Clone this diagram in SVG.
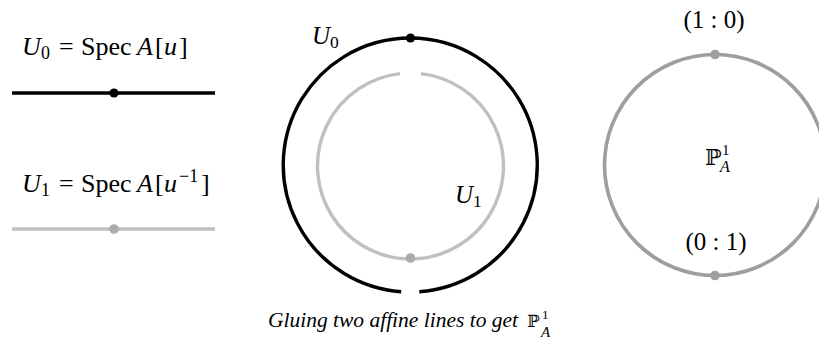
<svg xmlns="http://www.w3.org/2000/svg" width="819" height="347" viewBox="0 0 819 347">
<style>
  .m { font-family: "Liberation Serif", "DejaVu Serif", serif; fill: #000; }
  .it { font-style: italic; }
  .bb { font-family: "DejaVu Serif", "DejaVu Sans", "Noto Sans", serif; font-style: normal; }
  .blk { stroke: #000; stroke-width: 3.4; fill: none; }
  .lgr { stroke: #c0c0c0; stroke-width: 3.4; fill: none; }
  .dgr { stroke: #9e9e9e; stroke-width: 3.6; fill: none; }
</style>
<rect width="819" height="347" fill="#fff"/>

<g id="line-U0">
  <text class="m" font-size="26" y="55">
    <tspan x="22" class="it">U</tspan><tspan x="41" y="59" font-size="18">0</tspan><tspan x="59" y="55">=</tspan><tspan x="81">Spec</tspan><tspan x="137" class="it">A</tspan><tspan x="155">[</tspan><tspan x="164" class="it">u</tspan><tspan x="179">]</tspan>
  </text>
  <line class="blk" x1="12" y1="93" x2="215" y2="93"/>
  <circle cx="114" cy="93" r="4.6" fill="#000"/>
</g>

<g id="line-U1">
  <text class="m" font-size="26" y="192">
    <tspan x="22" class="it">U</tspan><tspan x="41" y="196" font-size="18">1</tspan><tspan x="59" y="192">=</tspan><tspan x="81">Spec</tspan><tspan x="137" class="it">A</tspan><tspan x="155">[</tspan><tspan x="164" class="it">u</tspan><tspan x="179" y="182" font-size="18">−1</tspan><tspan x="201" y="192">]</tspan>
  </text>
  <line class="lgr" x1="12" y1="229" x2="215" y2="229"/>
  <circle cx="114" cy="229" r="4.8" fill="#ababab"/>
</g>

<g id="glued-circles">
  <path class="blk" d="M 419.3 291.7 A 127 127 0 1 0 401.2 291.7"/>
  <path class="lgr" d="M 421 73.6 A 93 93 0 1 1 400 73.6"/>
  <circle cx="410.5" cy="38" r="4.6" fill="#000"/>
  <circle cx="410.5" cy="258" r="4.8" fill="#ababab"/>
  <text class="m" font-size="25" y="44">
    <tspan x="312" class="it">U</tspan><tspan x="330" y="48" font-size="17.5">0</tspan>
  </text>
  <text class="m" font-size="25" y="203">
    <tspan x="455" class="it">U</tspan><tspan x="473" y="207" font-size="17.5">1</tspan>
  </text>
</g>

<g id="P1-circle">
  <circle class="dgr" cx="715" cy="165" r="110.5"/>
  <circle cx="715" cy="54.5" r="4.8" fill="#9e9e9e"/>
  <circle cx="715" cy="275.5" r="4.8" fill="#9e9e9e"/>
  <text class="m" font-size="25" x="714" y="28" text-anchor="middle">(1 : 0)</text>
  <text class="m" font-size="25" x="716" y="250" text-anchor="middle">(0 : 1)</text>
  <text class="m" font-size="22" y="165">
    <tspan x="705" class="bb">ℙ</tspan><tspan x="722" y="155" font-size="15">1</tspan><tspan x="720" y="172" font-size="16" class="it">A</tspan>
  </text>
</g>

<g id="caption">
  <text class="m it" font-size="22" x="268" y="327" textLength="250" lengthAdjust="spacingAndGlyphs">Gluing two affine lines to get</text>
  <text class="m" font-size="17" y="327">
    <tspan x="527" class="bb">ℙ</tspan><tspan x="542" y="319" font-size="13">1</tspan><tspan x="541" y="337" font-size="15" class="it">A</tspan>
  </text>
</g>
</svg>
